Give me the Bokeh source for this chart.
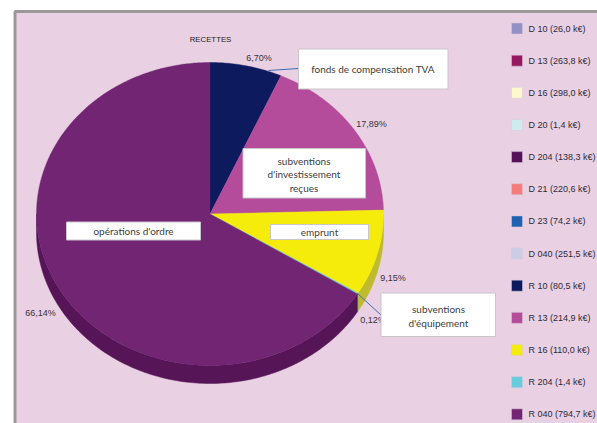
import numpy as np
from bokeh.plotting import figure
from bokeh.models import Range1d
from bokeh.core.properties import value
from bokeh.embed import file_html
from bokeh.resources import INLINE

title = "RECETTES"
legend_names = ["D 10", "D 13", "D 16", "D 20", "D 204", "D 21", "D 23", "D 040",
                "R 10", "R 13", "R 16", "R 204", "R 040"]
legend_values = ["26,0", "263,8", "298,0", "1,4", "138,3", "220,6", "74,2", "251,5",
                 "80,5", "214,9", "110,0", "1,4", "794,7"]
legend_colors = ["#9490C6", "#94195F", "#FDF9CC", "#CEEBF0", "#551258", "#F37C7C", "#1F63B0",
                 "#CCCCE6", "#0D1A5E", "#B44B9B", "#F5EC0C", "#67CCDC", "#722573"]
pie_values = [80.5, 214.9, 110.0, 1.4, 794.7]
pie_colors = ["#0D1A5E", "#B44B9B", "#F5EC0C", "#67CCDC", "#722573"]
side_colors = ["#0A1348", "#8A3A77", "#BEBC2E", "#5BB4C2", "#561557"]
pct_labels = ["6,70%", "17,89%", "9,15%", "0,12%", "66,14%"]

W, H = 597, 423
p = figure(width=W, height=H, output_backend="svg", toolbar_location=None,
           x_range=Range1d(0, 597), y_range=Range1d(423, 0),
           min_border=0, outline_line_color=None, background_fill_color="white",
           border_fill_color="white")
p.axis.visible = False
p.grid.visible = False

# frame
p.quad(left=[14.5], right=[640], top=[11], bottom=[470], fill_color="#E9D0E2",
       line_color="#9C9898", line_width=3)

cx, cy, rx, ry, depth = 209.5, 213.5, 173.5, 151.5, 18
vals = np.array(pie_values)
edges = np.concatenate([[0], np.cumsum(vals) / vals.sum()]) * 2 * np.pi


def px(t):
    return cx + rx * np.sin(t)


def py(t):
    return cy - ry * np.cos(t)


# extruded side (only the lower half is visible)
for a, b, c in zip(edges[:-1], edges[1:], side_colors):
    lo, hi = max(a, np.pi / 2), min(b, 3 * np.pi / 2)
    if hi <= lo:
        continue
    t = np.linspace(lo, hi, 160)
    xs = np.concatenate([px(t), px(t[::-1])])
    ys = np.concatenate([py(t), py(t[::-1]) + depth])
    p.patch(xs, ys, fill_color=c, line_color=c, line_width=0.5)

# top face
for a, b, c in zip(edges[:-1], edges[1:], pie_colors):
    t = np.linspace(a, b, max(4, int((b - a) * 90)))
    xs = np.concatenate([[cx], px(t)])
    ys = np.concatenate([[cy], py(t)])
    p.patch(xs, ys, fill_color=c, line_color=c, line_width=0.4)

text_col = "#3A3338"
label_font = value("Liberation Sans")

# percentage labels
pct_x = [258.5, 371, 392.5, 372.5, 40]
pct_y = [57, 123, 277, 319, 312]
p.text(pct_x, pct_y, text=pct_labels, text_font=label_font, text_font_size="9px",
       text_color=text_col, text_align="center", text_baseline="middle")
p.text([210], [38.5], text=[title], text_font=label_font, text_font_size="7.8px",
       text_color="#222222", text_align="center", text_baseline="middle")

# leader lines
p.line([268, 298], [70, 68], line_color="#3A70B8", line_width=1)
p.line([357, 381], [293, 315], line_color="#3A70B8", line_width=1)

# annotation boxes
box_l = [298, 242.5, 270, 66, 380.5]
box_r = [447.5, 365, 368, 200, 495]
box_t = [48.5, 148, 224, 221.5, 292.5]
box_b = [88.5, 197.5, 239, 239.5, 336]
p.quad(left=box_l, right=box_r, top=box_t, bottom=box_b, fill_color="white",
       line_color="#C9C5CB", line_width=1)

ann_x = [372.5, 303.5, 303.5, 303.5, 319, 133, 438, 438]
ann_y = [68.5, 160, 173.5, 187, 231.5, 230.5, 308, 322]
ann_t = ["fonds de compensation TVA", "subventions", "d'investissement", "reçues",
         "emprunt", "opérations d'ordre", "subventions", "d'équipement"]
p.text(ann_x, ann_y, text=ann_t, text_font=value("Lato"), text_font_size="10px",
       text_color="#404040", text_align="center", text_baseline="middle")

# legend
ly = 28 + 32.15 * np.arange(len(legend_names))
legend_text = [f"{n} ({v} k€)" for n, v in zip(legend_names, legend_values)]
p.scatter(np.full(len(ly), 516.5), ly, marker="square", size=11, fill_color=legend_colors,
          line_color="#D8CBD8", line_width=0.5)
p.text(np.full(len(ly), 528), ly, text=legend_text, text_font=label_font,
       text_font_size="9px", text_color="#2E2A38", text_align="left", text_baseline="middle")

open("out.html", "w").write(file_html(p, INLINE))
